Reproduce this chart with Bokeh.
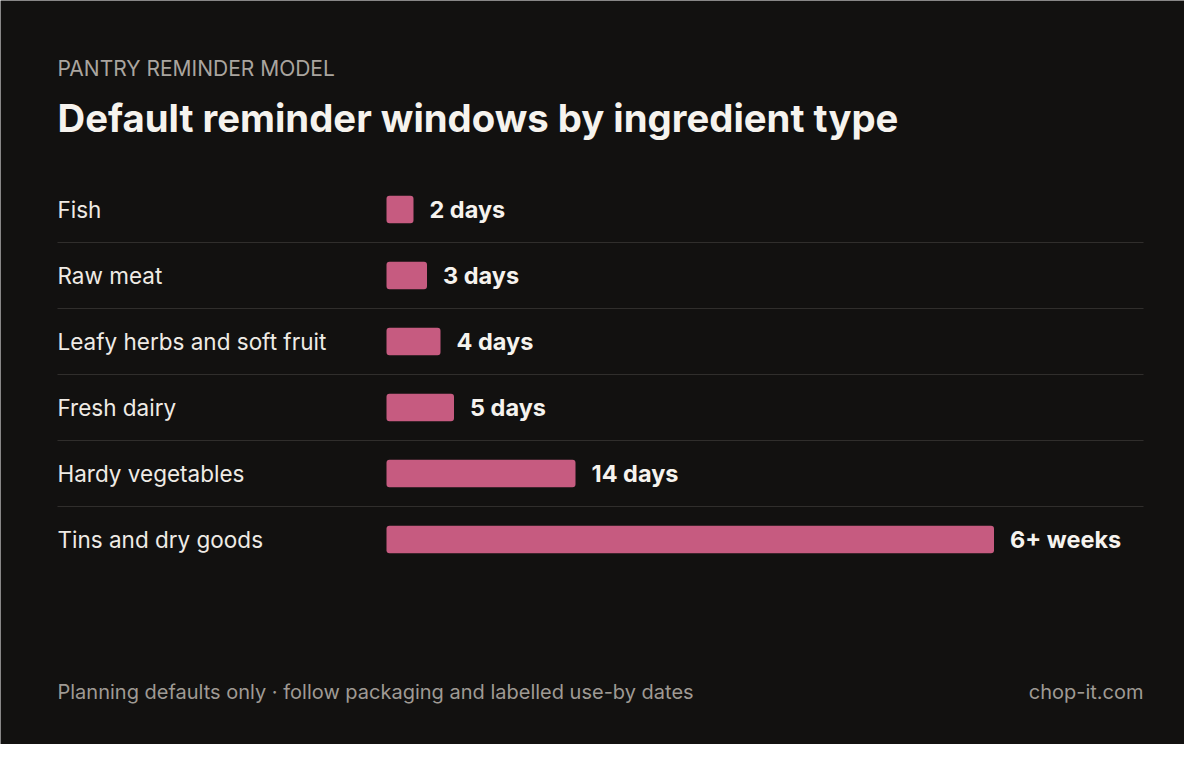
from bokeh.plotting import figure
from bokeh.models import Range1d, Label, ColumnDataSource
from bokeh.embed import file_html
from bokeh.resources import INLINE
from bokeh.core.properties import value

# data
categories = ["Fish", "Raw meat", "Leafy herbs and soft fruit", "Fresh dairy",
              "Hardy vegetables", "Tins and dry goods"]
days = [2, 3, 4, 5, 14, 45]
day_labels = ["2 days", "3 days", "4 days", "5 days", "14 days", "6+ weeks"]

kicker = "PANTRY REMINDER MODEL"
title = "Default reminder windows by ingredient type"
note = "Planning defaults only \u00b7 follow packaging and labelled use-by dates"
credit = "chop-it.com"

BG = "#121110"
BAR = "#c65b80"
FONT = "Inter"

W, H = 1184, 744
px_per_day = 13.5
bar_x0 = 386          # screen x of zero days
row0_y = 209          # screen y (from top) of first row centre
row_h = 66
left_x = 57
right_x = 1143

rows = list(range(len(categories)))

p = figure(width=W, height=H, output_backend="svg", toolbar_location=None,
           min_border=0, outline_line_color=None,
           background_fill_color=BG, border_fill_color=BG)
p.x_range = Range1d(-bar_x0 / px_per_day, (W - bar_x0) / px_per_day)
p.y_range = Range1d((H - row0_y) / row_h, -row0_y / row_h)
p.axis.visible = False
p.grid.visible = False

src = ColumnDataSource(dict(y=rows, days=days, cat=categories, lab=day_labels))

# separators between rows
sep_y = [r + 0.5 for r in rows[:-1]]
x_left = (left_x - bar_x0) / px_per_day
x_right = (right_x - bar_x0) / px_per_day
p.segment(x0=[x_left] * len(sep_y), x1=[x_right] * len(sep_y), y0=sep_y, y1=sep_y,
          line_color="#302e2c", line_width=1)

p.hbar(y="y", left=0, right="days", height=0.42, source=src,
       fill_color=BAR, line_color=None, border_radius=3)

p.text(x=x_left, y="y", text="cat", source=src, text_font=value(FONT),
       text_font_size="22.5px", text_color="#efebe5",
       text_align="left", text_baseline="middle")

p.text(x="days", y="y", text="lab", source=src, x_offset=16,
       text_font=value(FONT), text_font_size="23.5px", text_font_style="bold",
       text_color="#f6f3ee", text_align="left", text_baseline="middle")

p.add_layout(Label(x=left_x, y=H - 68, x_units="screen", y_units="screen",
                   text=kicker, text_font=FONT, text_font_size="21px",
                   text_color="#aaa59f", text_baseline="alphabetic"))
p.add_layout(Label(x=left_x, y=H - 117, x_units="screen", y_units="screen",
                   text=title, text_font=FONT, text_font_size="38.3px",
                   text_font_style="bold", text_color="#f6f3ee",
                   text_baseline="alphabetic"))
p.add_layout(Label(x=left_x, y=H - 691, x_units="screen", y_units="screen",
                   text=note, text_font=FONT, text_font_size="20px",
                   text_color="#9f9a94", text_baseline="alphabetic"))
p.add_layout(Label(x=right_x, y=H - 691, x_units="screen", y_units="screen",
                   text=credit, text_font=FONT, text_font_size="20px",
                   text_color="#9f9a94", text_align="right",
                   text_baseline="alphabetic"))

open("out.html", "w").write(file_html(p, INLINE))
